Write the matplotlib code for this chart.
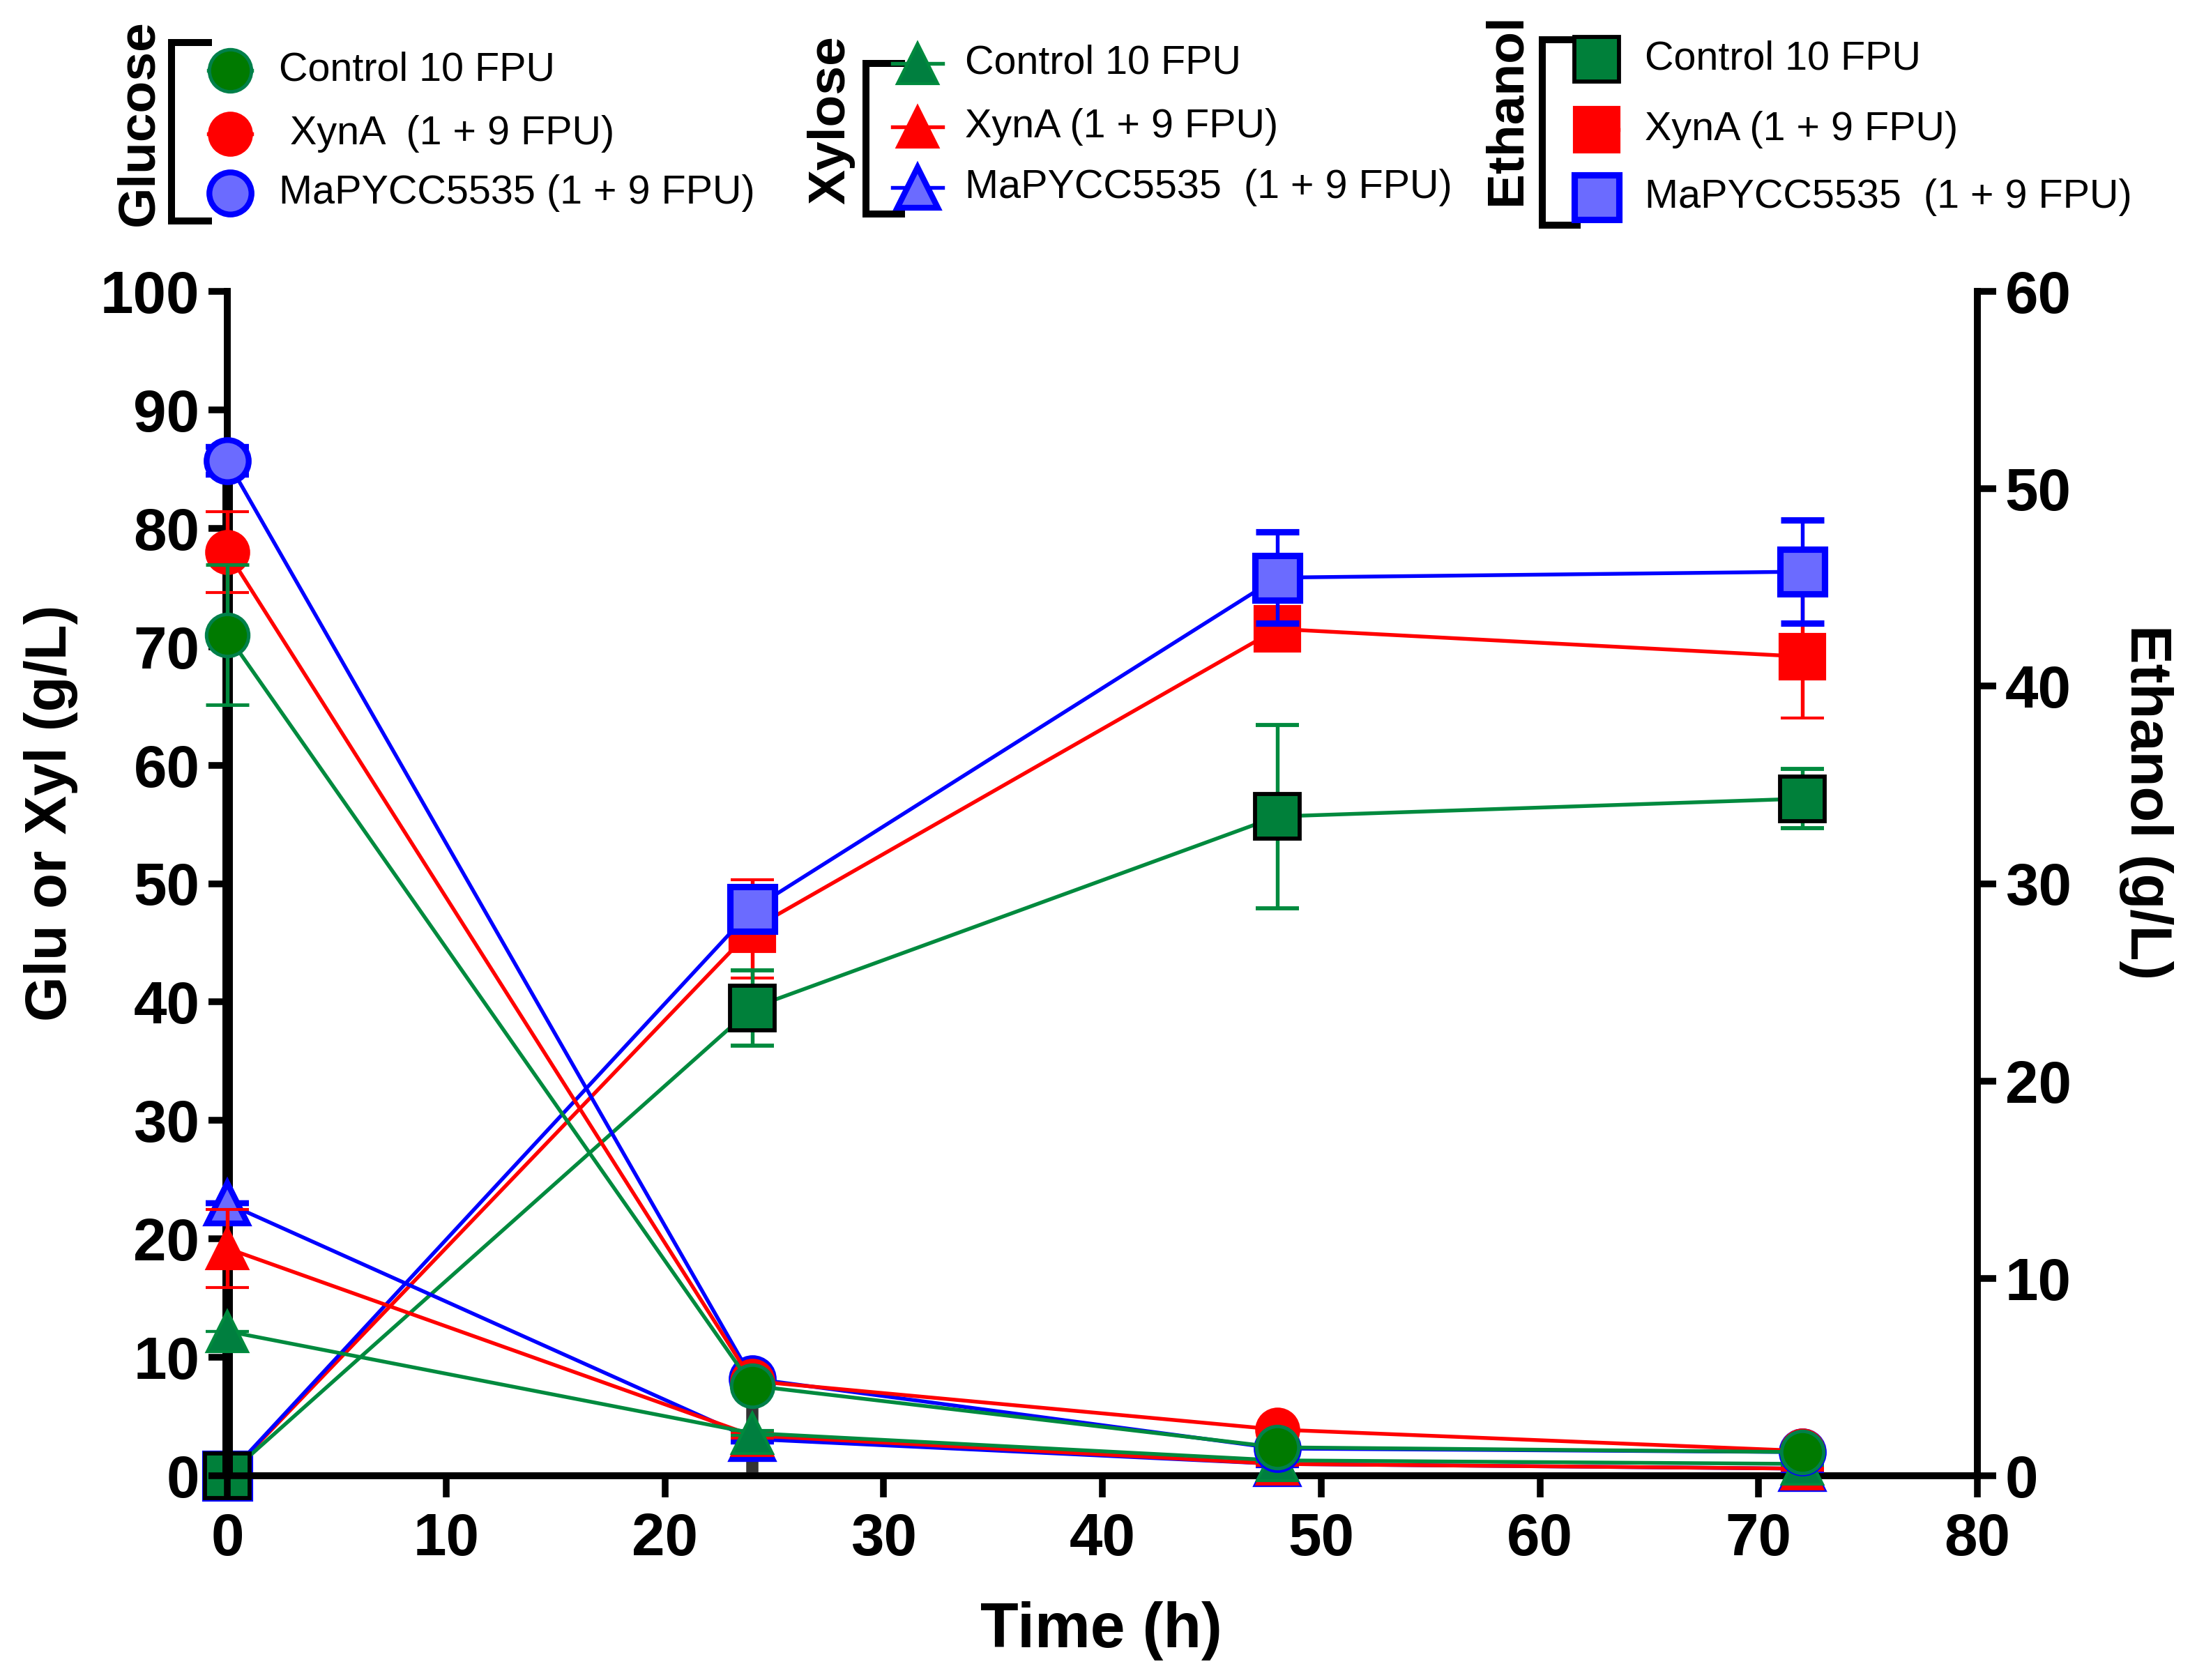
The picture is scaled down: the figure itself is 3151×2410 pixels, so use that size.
import matplotlib
matplotlib.use('Agg')
import matplotlib.pyplot as plt
from matplotlib.lines import Line2D

# sampling times (h)
time_h = [0, 24, 48, 72]

# glucose (g/L), left axis
glu_control = [71.0, 7.6, 2.4, 2.0]
glu_control_err = [5.9, 0.3, 0.3, 0.2]
glu_xyna = [78.0, 8.0, 3.9, 2.1]
glu_xyna_err = [3.4, 0.3, 0.3, 0.1]
glu_mapy = [85.7, 8.2, 2.3, 2.0]
glu_mapy_err = [1.2, 0.3, 0.2, 0.1]

# xylose (g/L), left axis
xyl_control = [12.2, 3.6, 1.3, 1.0]
xyl_control_err = [0.0, 0.2, 0.1, 0.1]
xyl_xyna = [19.2, 3.4, 1.0, 0.6]
xyl_xyna_err = [3.3, 0.2, 0.1, 0.1]
xyl_mapy = [23.0, 3.1, 1.0, 0.6]
xyl_mapy_err = [0.0, 0.2, 0.1, 0.1]

# ethanol (g/L), right axis
eth_control = [0.0, 23.7, 33.4, 34.3]
eth_control_err = [0.0, 1.9, 4.65, 1.5]
eth_xyna = [0.0, 27.7, 42.9, 41.5]
eth_xyna_err = [0.0, 2.5, 1.0, 3.1]
eth_mapy = [0.0, 28.7, 45.5, 45.8]
eth_mapy_err = [0.0, 0.5, 2.3, 2.6]

glu_labels = ['Control 10 FPU', ' XynA  (1 + 9 FPU)', 'MaPYCC5535 (1 + 9 FPU)']
xyl_labels = ['Control 10 FPU', 'XynA (1 + 9 FPU)', 'MaPYCC5535  (1 + 9 FPU)']
eth_labels = ['Control 10 FPU', 'XynA (1 + 9 FPU)', 'MaPYCC5535  (1 + 9 FPU)']

x_ticks = list(range(0, 81, 10))
left_ticks = list(range(0, 101, 10))
right_ticks = list(range(0, 61, 10))

GREEN = '#008A3E'
RED = '#FF0000'
BLUE = '#0000FF'
BLUE_FILL = '#6B6BFF'

plt.rcParams['font.family'] = ['Liberation Sans', 'DejaVu Sans']

W, H = 3151, 2410
fig = plt.figure(figsize=(W / 300, H / 300), dpi=300)
fig.patch.set_facecolor('white')

ax_l, ax_r, ax_t, ax_b = 326, 2836, 418, 2117
ax = fig.add_axes([ax_l / W, 1 - ax_b / H, (ax_r - ax_l) / W, (ax_b - ax_t) / H])
ax2 = ax.twinx()

LW = 1.3
SPINE = 2.3

# styles: (face, edge, edge width)
glu_styles = [('#007A00', '#00804A', 1.2), (RED, RED, 1.0), (BLUE_FILL, BLUE, 2.0)]
xyl_styles = [('#007F3F', GREEN, 1.0), (RED, RED, 1.0), (BLUE_FILL, BLUE, 2.0)]
eth_styles = [('#00803A', 'black', 1.4), (RED, RED, 1.0), (BLUE_FILL, BLUE, 2.2)]
line_colors = [GREEN, RED, BLUE]

# dark bars standing on the x axis at the first two samples
ax.vlines(time_h[0], 0, max(glu_control[0], glu_xyna[0], glu_mapy[0]),
          colors='black', lw=3.6, zorder=1, clip_on=False)
ax.vlines(time_h[1], 0, min(glu_control[1], glu_xyna[1], glu_mapy[1]),
          colors='#333333', lw=4.2, zorder=1, clip_on=False)


def draw(axis, y, err, color, style, marker, ms, z):
    face, edge, mew = style
    axis.errorbar(time_h, y, yerr=err, color=color, lw=LW, elinewidth=LW,
                  capsize=7.5, capthick=LW, marker=marker, ms=ms,
                  mfc=face, mec=edge, mew=mew, zorder=z, clip_on=False)


xyl = [(xyl_control, xyl_control_err), (xyl_xyna, xyl_xyna_err), (xyl_mapy, xyl_mapy_err)]
glu = [(glu_control, glu_control_err), (glu_xyna, glu_xyna_err), (glu_mapy, glu_mapy_err)]
eth = [(eth_control, eth_control_err), (eth_xyna, eth_xyna_err), (eth_mapy, eth_mapy_err)]

for i in [2, 1, 0]:
    draw(ax, xyl[i][0], xyl[i][1], line_colors[i], xyl_styles[i], '^', 14, 3 + (2 - i) * 0.1)
for i in [2, 1, 0]:
    draw(ax, glu[i][0], glu[i][1], line_colors[i], glu_styles[i], 'o', 14.5, 4 + (2 - i) * 0.1)
for k, i in enumerate([1, 2, 0]):
    draw(ax2, eth[i][0], eth[i][1], line_colors[i], eth_styles[i], 's', 15.5, 3 + k * 0.1)

ax.set_xlim(0, 80)
ax.set_ylim(0, 100)
ax2.set_ylim(0, 60)
ax.set_xticks(x_ticks)
ax.set_yticks(left_ticks)
ax2.set_yticks(right_ticks)

for a in (ax, ax2):
    a.spines['top'].set_visible(False)
    for s in ('left', 'right', 'bottom'):
        a.spines[s].set_linewidth(SPINE)
    a.tick_params(width=SPINE, length=6.5, labelsize=20.5)
    for lab in a.get_xticklabels() + a.get_yticklabels():
        lab.set_fontweight('bold')
ax.tick_params(axis='x', length=7.5, pad=5)
ax.tick_params(axis='y', pad=3)
ax2.tick_params(axis='y', pad=3)
ax.set_zorder(ax2.get_zorder() + 1)
ax.patch.set_visible(False)


def fx(px):
    return px / W


def fy(py):
    return 1 - py / H


# axis titles
fig.text(fx(1579), fy(2339), 'Time (h)', ha='center', va='center',
         fontsize=21.5, fontweight='bold')
fig.text(fx(73), fy(1166), 'Glu or Xyl (g/L)', ha='center', va='center',
         rotation=90, fontsize=20, fontweight='bold')
fig.text(fx(3078), fy(1151), 'Ethanol (g/L)', ha='center', va='center',
         rotation=270, fontsize=20, fontweight='bold')


# grouped legend at the top, drawn in figure pixels
def legend_group(title, title_x, title_y, bracket_x, b_top, b_bot, arm, mk_x, rows, txt_x,
                 labels, styles, marker, ms, seg):
    fig.text(fx(title_x), fy(title_y), title, rotation=90, ha='center', va='center',
             fontsize=18, fontweight='bold')
    fig.add_artist(Line2D([fx(bracket_x + arm), fx(bracket_x), fx(bracket_x), fx(bracket_x + arm)],
                          [fy(b_top), fy(b_top), fy(b_bot), fy(b_bot)],
                          color='black', lw=2.4, solid_joinstyle='miter'))
    for row, lab, st, col in zip(rows, labels, styles, line_colors):
        face, edge, mew = st
        fig.add_artist(Line2D([fx(mk_x - seg), fx(mk_x + seg)], [fy(row), fy(row)],
                              color=col, lw=LW))
        fig.add_artist(Line2D([fx(mk_x)], [fy(row)], marker=marker, ms=ms,
                              mfc=face, mec=edge, mew=mew, lw=0))
        fig.text(fx(txt_x), fy(row), lab, ha='left', va='center', fontsize=13.8)


legend_group('Glucose', 200, 176, 246, 61, 317, 53, 330, [101, 192, 277], 400,
             glu_labels, glu_styles, 'o', 14.5, 31)
legend_group('Xylose', 1192, 172, 1242, 91, 307, 51, 1316, [91, 182, 269], 1384,
             xyl_labels, xyl_styles, '^', 14, 36)
legend_group('Ethanol', 2161, 157, 2212, 57, 323, 50, 2290, [85, 186, 283], 2359,
             eth_labels, eth_styles, 's', 15.5, 31)

fig.savefig('out.png', dpi=300)
